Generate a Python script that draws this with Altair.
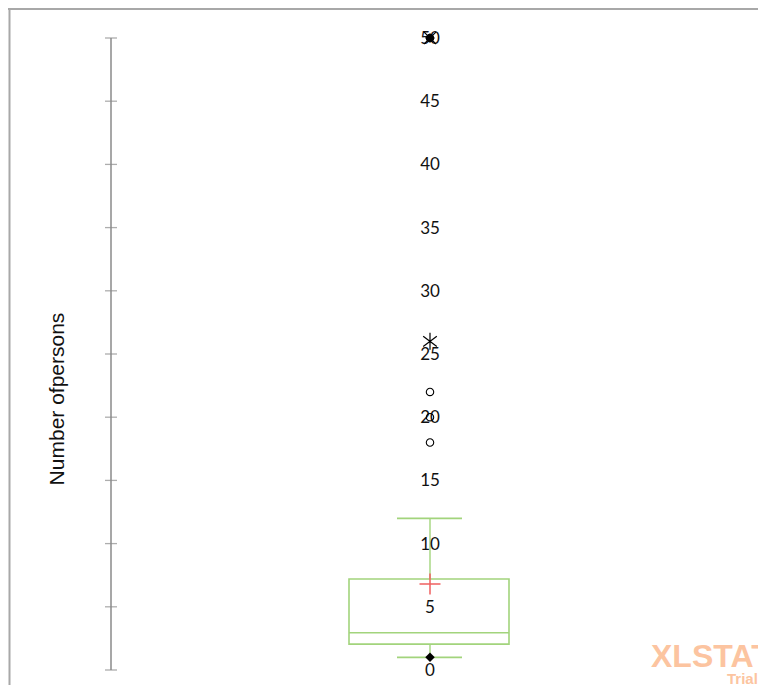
import altair as alt
import pandas as pd

# ---- data ----
y_ticks = [0, 5, 10, 15, 20, 25, 30, 35, 40, 45, 50]
q1 = [2.05]
median = [2.95]
q3 = [7.2]
whisker_low = [1.0]
whisker_high = [12.0]
mean = [6.8]
minimum = [1.0]
maximum = [50.0]
outliers_circle = [18.0, 20.0, 22.0, 50.0]
outliers_star = [26.0]
outliers_extreme = [50.0]

W, H = 750, 677
yscale = alt.Scale(domain=[0, 50], range=[662, 30], nice=False, zero=False)
GREEN = "#a2d47c"
AXIS_GRAY = "#8a8a8a"

ticks_df = pd.DataFrame({"v": y_ticks, "lab": [str(t) for t in y_ticks]})
stats_df = pd.DataFrame({"q1": q1, "med": median, "q3": q3, "wl": whisker_low,
                         "wh": whisker_high, "mean": mean})
axis_df = pd.DataFrame({"lo": [min(y_ticks)], "hi": [max(y_ticks)]})

def Y(field):
    return alt.Y(field, type="quantitative", scale=yscale, axis=None)

# frame
frame_top = alt.Chart(pd.DataFrame({"a": [0]})).mark_rule(color="#a8a8a8", strokeWidth=2).encode(
    x=alt.value(0), x2=alt.value(W), y=alt.value(1))
frame_left = alt.Chart(pd.DataFrame({"a": [0]})).mark_rule(color="#a8a8a8", strokeWidth=2).encode(
    x=alt.value(1.5), y=alt.value(0), y2=alt.value(H))

# manual axis
axis_line = alt.Chart(axis_df).mark_rule(color=AXIS_GRAY, strokeWidth=1.5).encode(
    x=alt.value(103), y=Y("lo"), y2="hi")
axis_ticks = alt.Chart(ticks_df).mark_tick(color=AXIS_GRAY, orient="horizontal",
                                           size=12, thickness=1.3).encode(
    x=alt.value(103), y=Y("v"))
axis_labels = alt.Chart(ticks_df).mark_text(font="Lato", fontSize=17, color="#111111",
                                            align="center", baseline="middle", dy=1).encode(
    x=alt.value(422), y=Y("v"), text="lab:N")
axis_title = alt.Chart(pd.DataFrame({"t": ["Number ofpersons"]})).mark_text(
    font="Liberation Sans", fontSize=21, color="#111111", angle=270,
    align="center", baseline="middle").encode(
    x=alt.value(50), y=alt.value(391), text="t:N")

# box
box = alt.Chart(stats_df).mark_rect(fillOpacity=0, stroke=GREEN, strokeWidth=1.6).encode(
    x=alt.value(341), x2=alt.value(501), y=Y("q3"), y2="q1")
med_line = alt.Chart(stats_df).mark_rule(color=GREEN, strokeWidth=1.6).encode(
    x=alt.value(341), x2=alt.value(501), y=Y("med"))
whisk_up = alt.Chart(stats_df).mark_rule(color=GREEN, strokeWidth=1.4).encode(
    x=alt.value(422), y=Y("q3"), y2="wh")
whisk_lo = alt.Chart(stats_df).mark_rule(color=GREEN, strokeWidth=1.4).encode(
    x=alt.value(422), y=Y("q1"), y2="wl")
cap_up = alt.Chart(stats_df).mark_rule(color=GREEN, strokeWidth=1.8).encode(
    x=alt.value(389), x2=alt.value(454), y=Y("wh"))
cap_lo = alt.Chart(stats_df).mark_rule(color=GREEN, strokeWidth=1.8).encode(
    x=alt.value(389), x2=alt.value(454), y=Y("wl"))

mean_mark = alt.Chart(stats_df).mark_point(
    shape="M-1,0L1,0M0,-1L0,1", filled=False, color="#f06060", strokeWidth=1.5,
    size=441, opacity=1).encode(x=alt.value(422), y=Y("mean"))

# outliers
circ = alt.Chart(pd.DataFrame({"v": outliers_circle})).mark_point(
    shape="circle", filled=False, color="black", strokeWidth=1.1, size=55, opacity=1).encode(
    x=alt.value(422), y=Y("v"))
star = alt.Chart(pd.DataFrame({"v": outliers_star})).mark_point(
    shape="M0,-1L0,1M-0.8,-0.6L0.8,0.6M-0.8,0.6L0.8,-0.6", filled=False, color="black",
    strokeWidth=1.2, size=290, opacity=1).encode(x=alt.value(422), y=Y("v"))
xmark = alt.Chart(pd.DataFrame({"v": outliers_extreme})).mark_point(
    shape="M-1,-1L1,1M-1,1L1,-1", filled=False, color="black",
    strokeWidth=1.3, size=150, opacity=1).encode(x=alt.value(422), y=Y("v"))
mm = alt.Chart(pd.DataFrame({"v": minimum + maximum})).mark_point(
    shape="diamond", filled=True, color="black", size=90, opacity=1).encode(
    x=alt.value(422), y=Y("v"))

# watermark
wm1 = alt.Chart(pd.DataFrame({"t": ["XLSTAT"]})).mark_text(
    font="Liberation Sans", fontWeight="bold", fontSize=32, color="#fcc4a0",
    align="left", baseline="alphabetic").encode(x=alt.value(643), y=alt.value(659), text="t:N")
wm2 = alt.Chart(pd.DataFrame({"t": ["Trial"]})).mark_text(
    font="Liberation Sans", fontWeight="bold", fontSize=15, color="#fcc4a0",
    align="left", baseline="alphabetic").encode(x=alt.value(719), y=alt.value(676), text="t:N")

chart = alt.layer(
    frame_top, frame_left, wm1, wm2, axis_line, axis_ticks, axis_title,
    box, med_line, whisk_up, whisk_lo, cap_up, cap_lo, axis_labels,
    mean_mark, circ, star, mm, xmark
).properties(
    width=W, height=H, padding=0, autosize=alt.AutoSizeParams(type="none"),
    background="white"
).configure_view(stroke=None)

chart.save("out.html", embed_options={"renderer": "svg", "actions": False})
